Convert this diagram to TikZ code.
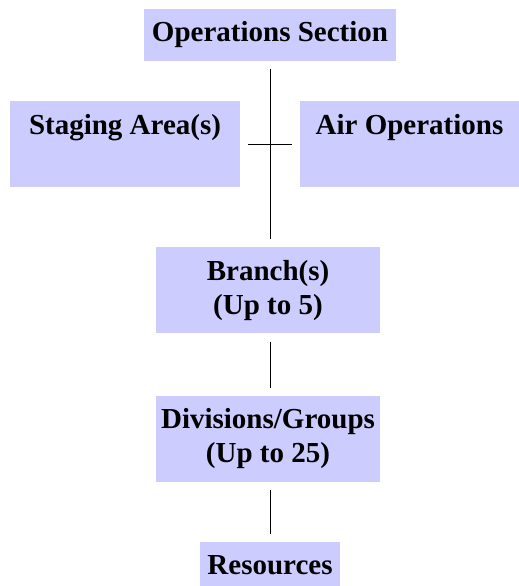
\documentclass[tikz,border=0pt]{standalone}
\usepackage{fontspec}
\setmainfont{Liberation Serif}
\usepackage{tikz}
\usetikzlibrary{positioning}
\definecolor{boxblue}{HTML}{CCCCFF}
\tikzstyle{unit} = [rectangle, fill=boxblue, inner sep=0pt, align=center,
   font=\fontsize{29}{34}\selectfont\bfseries]
\tikzstyle{topunit} = [unit, minimum height=86pt, text height=20pt, text depth=40pt]
\tikzstyle{link} = [line width=1pt, shorten >= 8pt, shorten <= 8pt]

\begin{document}
\begin{tikzpicture}[x=1pt, y=-1pt]
  \useasboundingbox (0,0) rectangle (519,586);

  \node[unit, minimum width=252pt, minimum height=52pt] (node_ops) at (270,35) {Operations Section};
  \node[topunit, minimum width=230pt] (node_staging) at (125,144) {Staging Area(s)};
  \node[topunit, minimum width=219pt] (node_air) at (409.5,144) {Air Operations};

  \node[unit, minimum width=224pt, minimum height=86pt, below=186pt of node_ops, xshift=-2pt] (node_branch) {Branch(s)\\(Up to 5)};
  \node[unit, minimum width=224pt, minimum height=86pt, below=62pt of node_branch] (node_div) {Divisions/Groups\\(Up to 25)};
  \node[unit, minimum width=140pt, minimum height=45pt, below=60pt of node_div, xshift=2pt] (node_res) {Resources};

  % connectors (all along x of the top box)
  \draw[link] (node_ops.south) -- (node_ops.south |- node_branch.north);
  \draw[link] (node_staging.east) -- (node_air.west);
  \draw[link] (node_ops.south |- node_branch.south) -- (node_ops.south |- node_div.north);
  \draw[link] (node_ops.south |- node_div.south) -- (node_res.north);
\end{tikzpicture}
\end{document}
